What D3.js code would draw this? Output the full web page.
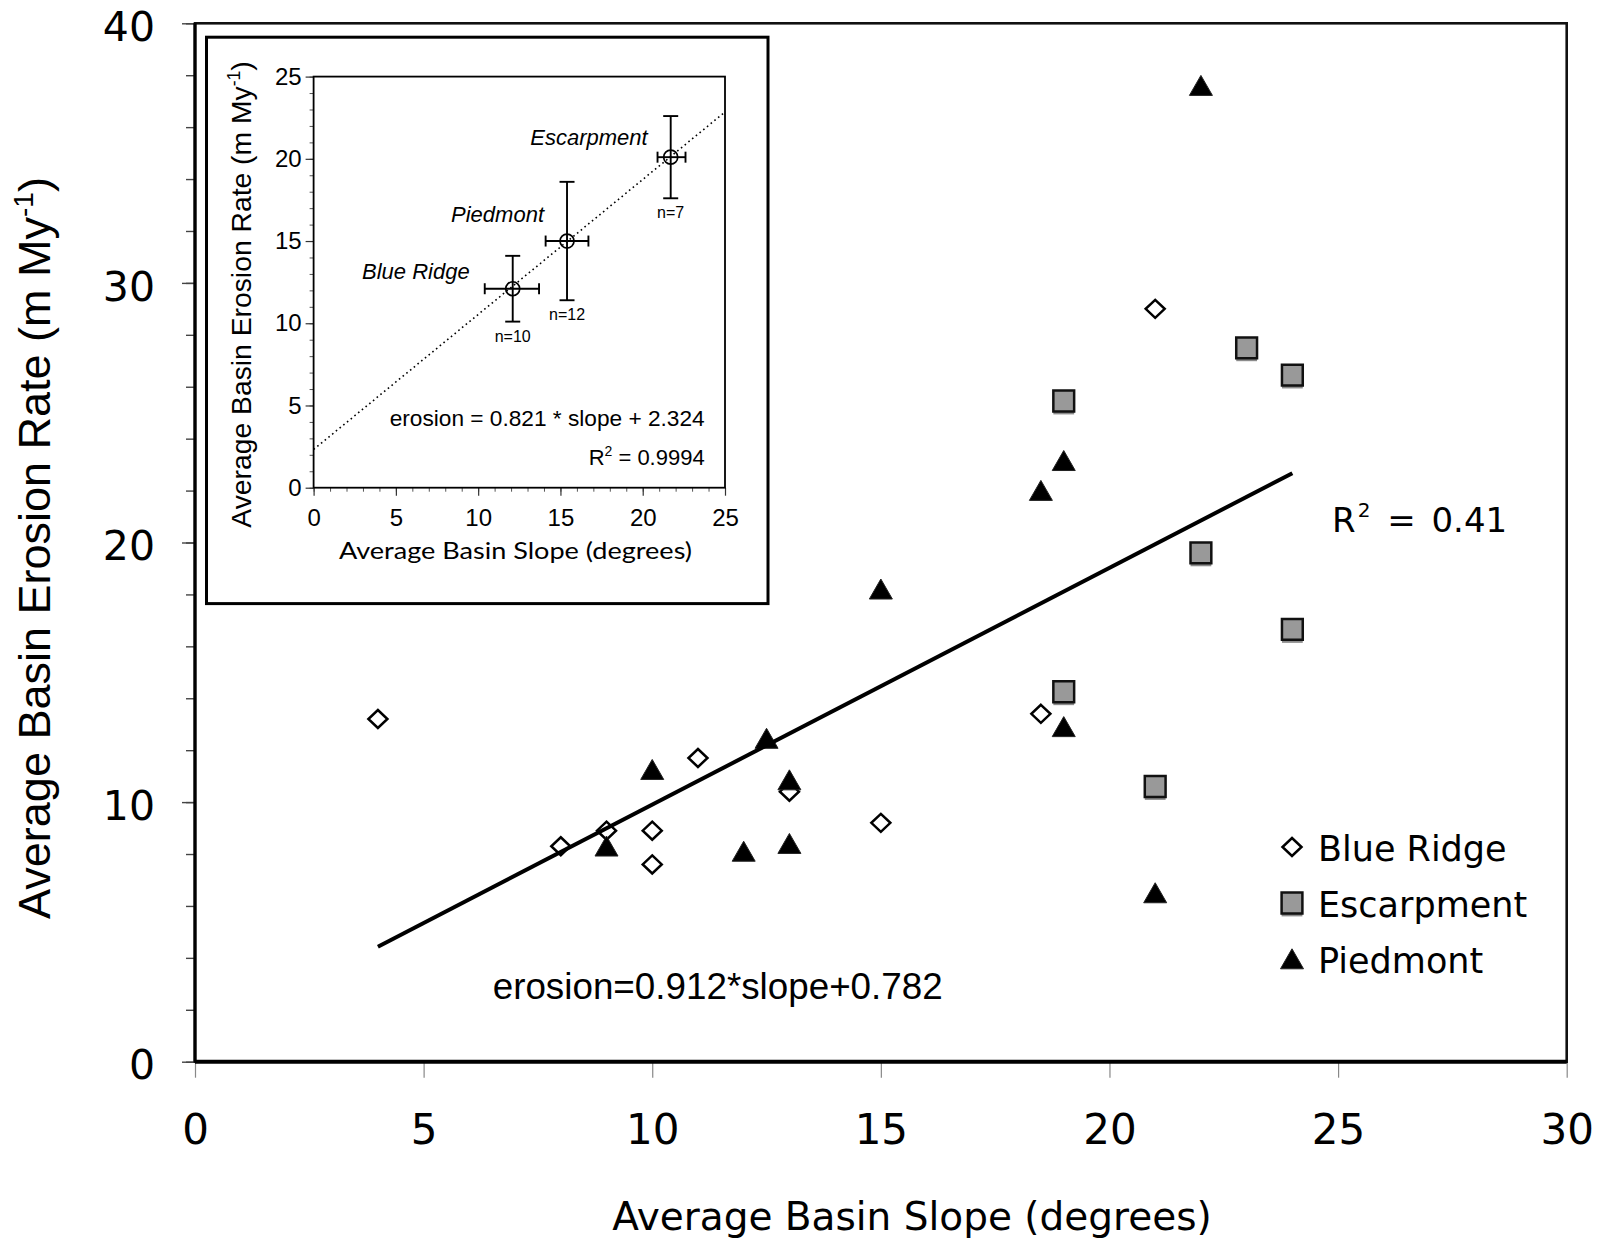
<!DOCTYPE html>
<html>
<head>
<meta charset="utf-8">
<script src="https://cdn.jsdelivr.net/npm/d3@7"></script>
<style>
  html, body { margin: 0; padding: 0; background: #fff; }
  svg { display: block; }
</style>
</head>
<body>
<svg id="chart" width="1606" height="1239"></svg>
<script>
// ---- Basin data: average slope (degrees) and erosion rate (m/My) ----
const blueRidgeSlope    = [4, 8, 9, 10, 10, 11, 13, 15, 18.5, 21];
const blueRidgeErosion  = [13.2, 8.3, 8.9, 8.9, 7.6, 11.7, 10.4, 9.2, 13.4, 29.0];
const escarpmentSlope   = [19, 19, 21, 22, 23, 24, 24];
const escarpmentErosion = [25.45, 14.25, 10.6, 19.6, 27.5, 26.45, 16.65];
const piedmontSlope     = [9, 10, 12, 12.5, 13, 13, 15, 18.5, 19, 19, 21, 22];
const piedmontErosion   = [8.3, 11.25, 8.1, 12.45, 10.85, 8.4, 18.2, 22.0, 23.15, 12.9, 6.5, 37.6];

const seriesNames = ["Blue Ridge", "Escarpment", "Piedmont"];

// least-squares fit through all basins
const fitSlope = 0.912;
const fitIntercept = 0.782;
const fitR2 = "0.41";
const fitRange = [4, 24];

const xTicks = [0, 5, 10, 15, 20, 25, 30];
const yTicks = [0, 10, 20, 30, 40];
const yMinorTicks = d3.range(0, 41, 2);

// ---- Inset: regional means with error bars ----
const regionNames       = ["Blue Ridge", "Piedmont", "Escarpment"];
const regionSlope       = [12.1, 15.4, 21.7];
const regionErosion     = [12.1, 15.0, 20.1];
const regionSlopeLow    = [10.4, 14.1, 20.9];
const regionSlopeHigh   = [13.7, 16.7, 22.6];
const regionErosionLow  = [10.1, 11.4, 17.6];
const regionErosionHigh = [14.1, 18.6, 22.6];
const regionCount       = [10, 12, 7];

const meanFitSlope = 0.821;
const meanFitIntercept = 2.324;
const meanFitR2 = "0.9994";
const insetTicks = [0, 5, 10, 15, 20, 25];
const insetMinorTicks = d3.range(0, 26, 1);

// ---- layout ----
const SANS_V = "DejaVu Sans";
const SANS_H = "Liberation Sans, Arial, sans-serif";

const svg = d3.select("#chart");

const x = d3.scaleLinear().domain([0, 30]).range([195, 1566.7]);
const y = d3.scaleLinear().domain([0, 40]).range([1061.7, 23.3]);

// y axis: minor ticks every 2, labelled ticks every 10
svg.append("g")
  .attr("transform", `translate(${x(0)},0)`)
  .call(d3.axisLeft(y).tickValues(yMinorTicks).tickSize(9).tickFormat(""))
  .call(g => g.select(".domain").remove())
  .call(g => g.selectAll("line").attr("stroke", "#444").attr("stroke-width", 1.4));

svg.append("g")
  .attr("transform", `translate(${x(0)},0)`)
  .call(d3.axisLeft(y).tickValues(yTicks).tickSize(13).tickPadding(27))
  .attr("font-family", SANS_V).attr("font-size", 41)
  .call(g => g.select(".domain").remove())
  .call(g => g.selectAll("line").attr("stroke", "#444").attr("stroke-width", 1.4))
  .call(g => g.selectAll("text").attr("fill", "#000").attr("dy", "0.42em"));

// x axis
svg.append("g")
  .attr("transform", `translate(0,${y(0)})`)
  .call(d3.axisBottom(x).tickValues(xTicks).tickSize(16).tickPadding(36))
  .attr("font-family", SANS_V).attr("font-size", 42)
  .call(g => g.select(".domain").remove())
  .call(g => g.selectAll("line").attr("stroke", "#888").attr("stroke-width", 1.2))
  .call(g => g.selectAll("text").attr("fill", "#000"));

// plot frame
svg.append("rect")
  .attr("x", x(0)).attr("y", y(40))
  .attr("width", x(30) - x(0)).attr("height", y(0) - y(40))
  .attr("fill", "none").attr("stroke", "#111").attr("stroke-width", 2.6);
svg.append("line")
  .attr("x1", x(0)).attr("x2", x(30)).attr("y1", y(0)).attr("y2", y(0))
  .attr("stroke", "#000").attr("stroke-width", 4);
svg.append("line")
  .attr("x1", x(0)).attr("x2", x(0)).attr("y1", y(0)).attr("y2", y(40))
  .attr("stroke", "#000").attr("stroke-width", 3.2);

// axis titles
svg.append("text")
  .attr("x", 912).attr("y", 1230)
  .attr("text-anchor", "middle")
  .attr("font-family", SANS_V).attr("font-size", 39)
  .text("Average Basin Slope (degrees)");

function erosionTitle(sel, size) {
  sel.append("tspan").text("Average Basin Erosion Rate (m My");
  sel.append("tspan").attr("font-size", size * 0.62).attr("dy", -size * 0.38).text("-1");
  sel.append("tspan").attr("dy", size * 0.38).text(")");
}
svg.append("text")
  .attr("transform", "translate(50,548) rotate(-90)")
  .attr("text-anchor", "middle")
  .attr("font-family", SANS_H).attr("font-size", 45)
  .call(t => erosionTitle(t, 45));

// ---- inset panel ----
const inset = svg.append("g");
inset.append("rect")
  .attr("x", 206.5).attr("y", 37.2).attr("width", 561.5).attr("height", 566.4)
  .attr("fill", "#fff").attr("stroke", "#000").attr("stroke-width", 3);

const ix = d3.scaleLinear().domain([0, 25]).range([313.6, 725]);
const iy = d3.scaleLinear().domain([0, 25]).range([487.7, 76.6]);

inset.append("g")
  .attr("transform", `translate(${ix(0)},0)`)
  .call(d3.axisLeft(iy).tickValues(insetMinorTicks).tickSize(4).tickFormat(""))
  .call(g => g.select(".domain").remove())
  .call(g => g.selectAll("line").attr("stroke", "#555").attr("stroke-width", 1));
inset.append("g")
  .attr("transform", `translate(${ix(0)},0)`)
  .call(d3.axisLeft(iy).tickValues(insetTicks).tickSize(8).tickPadding(4))
  .attr("font-family", SANS_H).attr("font-size", 24)
  .call(g => g.select(".domain").remove())
  .call(g => g.selectAll("line").attr("stroke", "#333").attr("stroke-width", 1.2))
  .call(g => g.selectAll("text").attr("fill", "#000"));
inset.append("g")
  .attr("transform", `translate(0,${iy(0)})`)
  .call(d3.axisBottom(ix).tickValues(insetMinorTicks).tickSize(4).tickFormat(""))
  .call(g => g.select(".domain").remove())
  .call(g => g.selectAll("line").attr("stroke", "#555").attr("stroke-width", 1));
inset.append("g")
  .attr("transform", `translate(0,${iy(0)})`)
  .call(d3.axisBottom(ix).tickValues(insetTicks).tickSize(8).tickPadding(13))
  .attr("font-family", SANS_H).attr("font-size", 24)
  .call(g => g.select(".domain").remove())
  .call(g => g.selectAll("line").attr("stroke", "#333").attr("stroke-width", 1.2))
  .call(g => g.selectAll("text").attr("fill", "#000"));

inset.append("rect")
  .attr("x", ix(0)).attr("y", iy(25))
  .attr("width", ix(25) - ix(0)).attr("height", iy(0) - iy(25))
  .attr("fill", "none").attr("stroke", "#000").attr("stroke-width", 1.8);

inset.append("text")
  .attr("x", 515.5).attr("y", 558.8)
  .attr("text-anchor", "middle")
  .attr("font-family", "Lato, " + SANS_H).attr("font-size", 24)
  .attr("textLength", 353).attr("lengthAdjust", "spacingAndGlyphs")
  .text("Average Basin Slope (degrees)");
inset.append("text")
  .attr("transform", "translate(251,294.5) rotate(-90)")
  .attr("text-anchor", "middle")
  .attr("font-family", SANS_H).attr("font-size", 28.3)
  .call(t => erosionTitle(t, 28.3));

// regression through the regional means
const meanFit = s => meanFitSlope * s + meanFitIntercept;
inset.append("line")
  .attr("x1", ix(0)).attr("y1", iy(meanFit(0)))
  .attr("x2", ix(25)).attr("y2", iy(meanFit(25)))
  .attr("stroke", "#000").attr("stroke-width", 1.6)
  .attr("stroke-dasharray", "1.6,3.2");

// label placement beside each regional mean
const regionLabelOffset = { "Blue Ridge": [-43, -10], "Piedmont": [-23, -19], "Escarpment": [-23, -12] };

const regions = regionNames.map((name, i) => ({
  name, s: regionSlope[i], e: regionErosion[i],
  sLo: regionSlopeLow[i], sHi: regionSlopeHigh[i],
  eLo: regionErosionLow[i], eHi: regionErosionHigh[i], n: regionCount[i]
}));

const rg = inset.selectAll("g.region").data(regions).join("g").attr("class", "region")
  .attr("stroke", "#000").attr("stroke-width", 1.9).attr("fill", "none");
rg.append("line").attr("x1", d => ix(d.s)).attr("x2", d => ix(d.s)).attr("y1", d => iy(d.eLo)).attr("y2", d => iy(d.eHi));
rg.append("line").attr("x1", d => ix(d.s) - 7.5).attr("x2", d => ix(d.s) + 7.5).attr("y1", d => iy(d.eLo)).attr("y2", d => iy(d.eLo));
rg.append("line").attr("x1", d => ix(d.s) - 7.5).attr("x2", d => ix(d.s) + 7.5).attr("y1", d => iy(d.eHi)).attr("y2", d => iy(d.eHi));
rg.append("line").attr("x1", d => ix(d.sLo)).attr("x2", d => ix(d.sHi)).attr("y1", d => iy(d.e)).attr("y2", d => iy(d.e));
rg.append("line").attr("x1", d => ix(d.sLo)).attr("x2", d => ix(d.sLo)).attr("y1", d => iy(d.e) - 5.5).attr("y2", d => iy(d.e) + 5.5);
rg.append("line").attr("x1", d => ix(d.sHi)).attr("x2", d => ix(d.sHi)).attr("y1", d => iy(d.e) - 5.5).attr("y2", d => iy(d.e) + 5.5);
rg.append("circle").attr("cx", d => ix(d.s)).attr("cy", d => iy(d.e)).attr("r", 7).attr("stroke-width", 1.7);

rg.append("text")
  .attr("stroke", "none").attr("fill", "#000")
  .attr("x", d => ix(d.s)).attr("y", d => iy(d.eLo) + 20)
  .attr("text-anchor", "middle")
  .attr("font-family", SANS_H).attr("font-size", 16)
  .text(d => "n=" + d.n);
rg.append("text")
  .attr("stroke", "none").attr("fill", "#000")
  .attr("x", d => ix(d.s) + regionLabelOffset[d.name][0])
  .attr("y", d => iy(d.e) + regionLabelOffset[d.name][1])
  .attr("text-anchor", "end")
  .attr("font-family", SANS_H).attr("font-size", 22).attr("font-style", "italic")
  .text(d => d.name);

inset.append("text")
  .attr("x", 704.7).attr("y", 425.7)
  .attr("text-anchor", "end")
  .attr("font-family", SANS_H).attr("font-size", 22)
  .attr("textLength", 315).attr("lengthAdjust", "spacingAndGlyphs")
  .text(`erosion = ${meanFitSlope} * slope + ${meanFitIntercept}`);
inset.append("text")
  .attr("x", 704.7).attr("y", 464.7)
  .attr("text-anchor", "end")
  .attr("font-family", SANS_H).attr("font-size", 22)
  .call(t => {
    t.append("tspan").text("R");
    t.append("tspan").attr("font-size", 14).attr("dy", -9).text("2");
    t.append("tspan").attr("dy", 9).text(" = " + meanFitR2);
  });

// ---- basin markers ----
const diamondPath  = "M0,-9L9.5,0L0,9L-9.5,0Z";
const squarePath   = "M-10.4,-10.4H10.4V10.4H-10.4Z";
const trianglePath = "M0,-10.2L11.5,9.8L-11.5,9.8Z";

function drawDiamond(g) {
  g.append("path").attr("d", diamondPath)
    .attr("fill", "#fff").attr("stroke", "#000").attr("stroke-width", 2.5);
}
function drawSquare(g) {
  g.append("path").attr("d", squarePath).attr("transform", "translate(0,3)")
    .attr("fill", "#8c8c8c");
  g.append("path").attr("d", squarePath)
    .attr("fill", "#999").attr("stroke", "#111").attr("stroke-width", 2.5);
}
function drawTriangle(g) {
  g.append("path").attr("d", trianglePath)
    .attr("fill", "#000").attr("stroke", "#222").attr("stroke-width", 1);
}
const drawers = { "Blue Ridge": drawDiamond, "Escarpment": drawSquare, "Piedmont": drawTriangle };

const seriesData = {
  "Blue Ridge": blueRidgeSlope.map((s, i) => [s, blueRidgeErosion[i]]),
  "Escarpment": escarpmentSlope.map((s, i) => [s, escarpmentErosion[i]]),
  "Piedmont":   piedmontSlope.map((s, i) => [s, piedmontErosion[i]])
};

seriesNames.forEach(name => {
  svg.append("g").selectAll("g").data(seriesData[name]).join("g")
    .attr("transform", d => `translate(${x(d[0])},${y(d[1])})`)
    .each(function () { drawers[name](d3.select(this)); });
});

// all-basin regression line
const fit = s => fitSlope * s + fitIntercept;
svg.append("line")
  .attr("x1", x(fitRange[0])).attr("y1", y(fit(fitRange[0])))
  .attr("x2", x(fitRange[1])).attr("y2", y(fit(fitRange[1])))
  .attr("stroke", "#000").attr("stroke-width", 4);

svg.append("text")
  .attr("x", 492.7).attr("y", 998.6)
  .attr("font-family", SANS_H).attr("font-size", 36)
  .attr("textLength", 450).attr("lengthAdjust", "spacingAndGlyphs")
  .text(`erosion=${fitSlope}*slope+${fitIntercept}`);

svg.append("text")
  .attr("x", 1332).attr("y", 532)
  .attr("font-family", SANS_V).attr("font-size", 34)
  .call(t => {
    t.append("tspan").text("R");
    t.append("tspan").attr("font-size", 20).attr("dy", -15).attr("dx", 2).text("2");
    t.append("tspan").attr("dy", 15).attr("dx", 6).text(" = ");
    t.append("tspan").attr("dx", 5).text(fitR2);
  });

// ---- legend ----
const legend = svg.append("g").attr("transform", "translate(1292,847)");
const li = legend.selectAll("g").data(seriesNames).join("g")
  .attr("transform", (d, i) => `translate(0,${i * 56})`);
li.each(function (d) { drawers[d](d3.select(this)); });
li.append("text")
  .attr("x", 26).attr("y", 14)
  .attr("font-family", SANS_V).attr("font-size", 35)
  .text(d => d);
</script>
</body>
</html>
